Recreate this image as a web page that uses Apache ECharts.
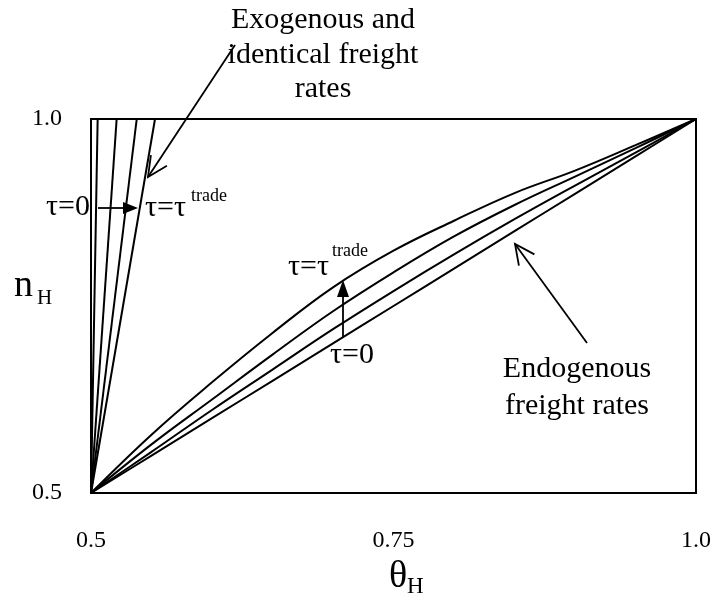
<!DOCTYPE html>
<html><head><meta charset="utf-8">
<script src="https://cdn.jsdelivr.net/npm/echarts@6/dist/echarts.min.js"></script>
<style>html,body{margin:0;padding:0;background:#fff}#c{width:720px;height:605px}</style>
</head><body><div id="c"></div>
<script>
// ---- data ----
const thetaGrid = [0.5, 0.55, 0.6, 0.65, 0.7, 0.75, 0.8, 0.85, 0.9, 0.95, 1.0];
const nEndoTau0 = [0.5, 0.55, 0.6, 0.65, 0.7, 0.75, 0.8, 0.85, 0.9, 0.95, 1.0];
const nEndoTau1 = [0.5, 0.555, 0.611, 0.665, 0.719, 0.770, 0.819, 0.866, 0.911, 0.955, 1.0];
const nEndoTau2 = [0.5, 0.565, 0.625, 0.685, 0.743, 0.795, 0.843, 0.885, 0.923, 0.961, 1.0];
const nEndoTau3 = [0.5, 0.578, 0.648, 0.714, 0.775, 0.824, 0.864, 0.901, 0.931, 0.965, 1.0];
const exoThetaAtTop = [0.5055, 0.5212, 0.5378, 0.5529]; // theta where exogenous lines reach n=1.0
const xTicks = [0.5, 0.75, 1.0];
const xTickLabels = ['0.5', '0.75', '1.0'];
const yTicks = [0.5, 1.0];
const yTickLabels = ['0.5', '1.0'];

const FONT = '"Liberation Serif", "DejaVu Serif", serif';
const chart = echarts.init(document.getElementById('c'), null, {renderer: 'canvas'});

function pairs(xs, ys) { return xs.map((x, i) => [x, ys[i]]); }
const lineStyle = {color: '#000', width: 2};
const series = [];
[nEndoTau0, nEndoTau1, nEndoTau2, nEndoTau3].forEach(ys => series.push({
  type: 'line', data: pairs(thetaGrid, ys), smooth: 0.4, symbol: 'none',
  lineStyle: lineStyle, silent: true, animation: false
}));
exoThetaAtTop.forEach(xt => series.push({
  type: 'line', data: [[0.5, 0.5], [xt, 1.0]], symbol: 'none',
  lineStyle: lineStyle, silent: true, animation: false
}));

function openArrow(x1, y1, x2, y2, len, ang) {
  const a = Math.atan2(y1 - y2, x1 - x2);
  const p1 = [x2 + len * Math.cos(a + ang), y2 + len * Math.sin(a + ang)];
  const p2 = [x2 + len * Math.cos(a - ang), y2 + len * Math.sin(a - ang)];
  return [
    {type: 'line', shape: {x1, y1, x2, y2}, style: {stroke: '#000', lineWidth: 1.8}},
    {type: 'polyline', shape: {points: [p1, [x2, y2], p2]}, style: {stroke: '#000', lineWidth: 1.8, fill: null}}
  ];
}
function filledArrow(x1, y1, x2, y2, len, half) {
  const a = Math.atan2(y2 - y1, x2 - x1);
  const bx = x2 - len * Math.cos(a), by = y2 - len * Math.sin(a);
  const nx = -Math.sin(a), ny = Math.cos(a);
  return [
    {type: 'line', shape: {x1, y1, x2: bx, y2: by}, style: {stroke: '#000', lineWidth: 1.8}},
    {type: 'polygon', shape: {points: [[x2, y2], [bx + nx * half, by + ny * half], [bx - nx * half, by - ny * half]]}, style: {fill: '#000'}}
  ];
}
function txt(text, x, y, size, align) {
  return {type: 'text', x: x, y: y, style: {text: text, fontSize: size, fontFamily: FONT, fill: '#000', align: align || 'center', verticalAlign: 'middle'}};
}

const graphics = [].concat(
  openArrow(235, 45, 148, 177, 22, 0.45),
  openArrow(587, 343, 515, 244, 22, 0.45),
  filledArrow(98, 208, 138, 208, 15, 6),
  filledArrow(343, 337, 343, 280, 17, 6),
  [
    txt('Exogenous and', 323, 20, 30),
    txt('identical freight', 323, 55, 30),
    txt('rates', 323, 89, 30),
    txt('τ=0', 90, 207, 30, 'right'),
    txt('τ=τ', 145, 208, 30, 'left'),
    txt('trade', 191, 196, 18, 'left'),
    txt('τ=τ', 288, 267, 30, 'left'),
    txt('trade', 332, 251, 18, 'left'),
    txt('τ=0', 352, 355, 30),
    txt('Endogenous', 577, 369, 30),
    txt('freight rates', 577, 406, 30),
    txt('n', 14, 286, 38, 'left'),
    txt('H', 37, 298, 21, 'left'),
    txt('θ', 389, 577, 38, 'left'),
    txt('H', 407, 587, 23, 'left')
  ]
);

chart.setOption({
  animation: false,
  backgroundColor: '#fff',
  grid: {left: 91, top: 119, width: 605, height: 374, show: true, borderColor: '#000', borderWidth: 2, backgroundColor: 'transparent'},
  xAxis: {
    type: 'value', min: 0.5, max: 1.0, interval: 0.25,
    axisLine: {show: false}, axisTick: {show: false}, splitLine: {show: false},
    axisLabel: {color: '#000', fontSize: 24, fontFamily: FONT, margin: 36,
      formatter: v => { const i = xTicks.findIndex(t => Math.abs(t - v) < 1e-9); return i >= 0 ? xTickLabels[i] : ''; }}
  },
  yAxis: {
    type: 'value', min: 0.5, max: 1.0, interval: 0.5,
    axisLine: {show: false}, axisTick: {show: false}, splitLine: {show: false},
    axisLabel: {color: '#000', fontSize: 24, fontFamily: FONT, margin: 29,
      formatter: v => { const i = yTicks.findIndex(t => Math.abs(t - v) < 1e-9); return i >= 0 ? yTickLabels[i] : ''; }}
  },
  series: series,
  graphic: graphics
});
</script></body></html>
